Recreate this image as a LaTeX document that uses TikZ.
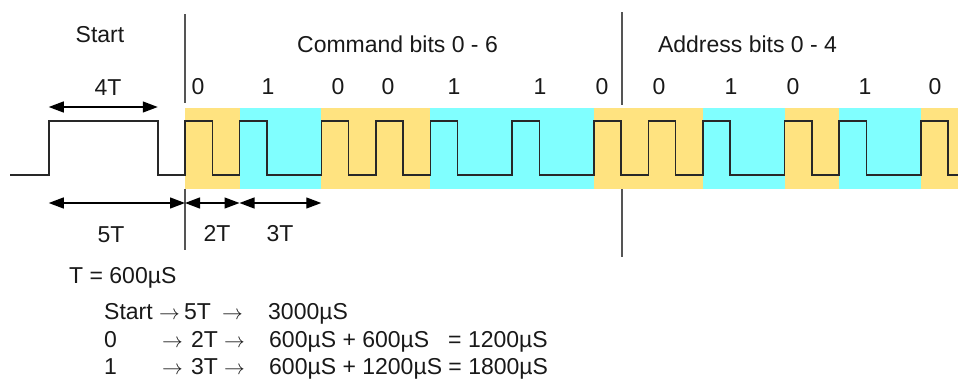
\documentclass[tikz,border=0pt]{standalone}
\usepackage{fontspec}
\setmainfont{Liberation Sans}
\usetikzlibrary{arrows.meta}
\definecolor{bitY}{RGB}{255,227,128}
\definecolor{bitC}{RGB}{128,255,255}
\definecolor{waveC}{RGB}{40,40,40}
\definecolor{divC}{RGB}{85,85,85}
\definecolor{txtC}{RGB}{25,25,25}
\tikzset{
  wave/.style={draw=waveC, line width=1.5pt, line join=miter},
  divider/.style={draw=divC, line width=1.2pt},
  dimarrow/.style={draw=black, line width=1.3pt,
    {Triangle[length=15pt,width=11pt]}-{Triangle[length=15pt,width=11pt]}},
  toplbl/.style={font=\fontsize{23}{27}\selectfont, text=txtC, inner sep=0pt, anchor=base},
  botlbl/.style={font=\fontsize{23}{27}\selectfont, text=txtC, inner sep=0pt, anchor=base west},
}
\newcommand{\ra}{{\fontsize{20}{24}\selectfont$\rightarrow$}}
\begin{document}
\begin{tikzpicture}[x=1pt,y=-1pt]
\def\T{27.25}
\def\xo{185}
\useasboundingbox (0,0) rectangle (958,380);
\begin{scope}
\clip (0,0) rectangle (958,380);
% bit bands
\foreach \a/\b/\c in {0/2/bitY, 2/5/bitC, 5/9/bitY, 9/15/bitC, 15/19/bitY, 19/22/bitC, 22/24/bitY, 24/27/bitC, 27/29/bitY}
  \fill[\c] ({\xo+\a*\T},108) rectangle ({\xo+\b*\T},189);
% waveform
\draw[wave] (10,175) -- ({\xo-5*\T},175) -- ({\xo-5*\T},121) -- ({\xo-\T},121) -- ({\xo-\T},175) -- (\xo,175)
  \foreach \s/\f/\e in {0/1/2, 2/3/5, 5/6/7, 7/8/9, 9/10/12, 12/13/15, 15/16/17, 17/18/19, 19/20/22, 22/23/24, 24/25/27, 27/28/29}
  { -- ({\xo+\s*\T},121) -- ({\xo+\f*\T},121) -- ({\xo+\f*\T},175) -- ({\xo+\e*\T},175) };
\end{scope}
% dividers
\draw[divider] (185,14) -- (185,103);
\draw[divider] (185,189) -- (185,250);
\draw[divider] (622,12) -- (622,105);
\draw[divider] (622,189) -- (622,257);
% dimension coordinates
\coordinate (s0) at ({\xo-5*\T},107);
\coordinate (s1) at ({\xo-\T},107);
\coordinate (d0) at ({\xo-5*\T},203);
\coordinate (d1) at (\xo,203);
\coordinate (d2) at ({\xo+2*\T},203);
\coordinate (d3) at ({\xo+5*\T},203);
\draw[dimarrow] (s0) -- (s1);
\draw[dimarrow] (d0) -- (d1);
\draw[dimarrow] (d1) -- (d2);
\draw[dimarrow] (d2) -- (d3);
% top labels
\node[toplbl] (lstart) at (100,42) {Start};
\node[toplbl] (lcmd) at (397.5,52) {Command bits 0 - 6};
\node[toplbl] (laddr) at (747.5,52) {Address bits 0 - 4};
\node[toplbl] (l4T) at (108,95) {4T};
\node[toplbl] (l5T) at (111,242) {5T};
\node[toplbl] (l2T) at (217,241) {2T};
\node[toplbl] (l3T) at (280,241) {3T};
\foreach \xx/\bb [count=\i] in {198/0, 268/1, 338/0, 388/0, 454/1, 540/1, 602/0, 659/0, 731/1, 793/0, 865/1, 935/0}
  \node[toplbl] (bit\i) at (\xx,94) {\bb};
% bottom text
\node[botlbl] (tdef) at (69,283) {T = 600µS};
\node[botlbl] (r1a) at (104,319) {Start};
\node[botlbl] (r1b) at (159,319) {\ra};
\node[botlbl] (r1c) at (184,319) {5T};
\node[botlbl] (r1d) at (222,319) {\ra};
\node[botlbl] (r1e) at (268,319) {3000µS};
\node[botlbl] (r2a) at (104,347) {0};
\node[botlbl] (r2b) at (162,347) {\ra};
\node[botlbl] (r2c) at (191,347) {2T};
\node[botlbl] (r2d) at (224,347) {\ra};
\node[botlbl] (r2e) at (269,347) {600µS + 600µS};
\node[botlbl] (r2f) at (448,347) {= 1200µS};
\node[botlbl] (r3a) at (104,374) {1};
\node[botlbl] (r3b) at (162,374) {\ra};
\node[botlbl] (r3c) at (191,374) {3T};
\node[botlbl] (r3d) at (224,374) {\ra};
\node[botlbl] (r3e) at (269,374) {600µS + 1200µS = 1800µS};
\end{tikzpicture}
\end{document}
